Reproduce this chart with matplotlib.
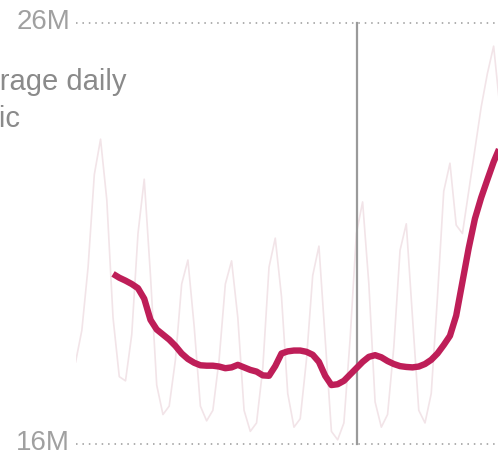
import matplotlib.pyplot as plt
from matplotlib.transforms import ScaledTranslation

# daily traffic in millions, one value per day
daily = [17.95, 18.7, 20.2, 22.4, 23.24, 21.8, 19.0, 17.6, 17.5, 18.6,
         21.0, 22.29, 20.0, 17.4, 16.7, 16.9, 18.0, 19.8, 20.37, 18.8,
         16.9, 16.55, 16.8, 18.0, 19.8, 20.35, 19.0, 16.8, 16.3, 16.5,
         17.8, 20.2, 20.89, 19.5, 17.2, 16.4, 16.6, 18.0, 20.0, 20.7,
         18.5, 16.3, 16.1, 16.5, 18.5, 21.0, 21.75, 19.8, 17.0, 16.4,
         16.7, 18.3, 20.6, 21.23, 19.0, 16.8, 16.5, 17.2, 19.5, 22.0,
         22.67, 21.2, 21.0, 22.0, 23.0, 24.0, 24.8, 25.45, 24.0]
days = list(range(len(daily)))

# seven-day average, starting on day 6
avg = [20.04, 19.95, 19.88, 19.80, 19.70, 19.45, 18.95, 18.72, 18.60, 18.48,
       18.33, 18.15, 18.02, 17.93, 17.87, 17.86, 17.86, 17.84, 17.80, 17.82,
       17.88, 17.82, 17.76, 17.72, 17.63, 17.62, 17.85, 18.15, 18.20, 18.22,
       18.22, 18.19, 18.12, 17.95, 17.62, 17.40, 17.42, 17.50, 17.65, 17.80,
       17.95, 18.07, 18.11, 18.06, 17.97, 17.90, 17.85, 17.83, 17.82, 17.84,
       17.90, 18.00, 18.15, 18.35, 18.57, 19.05, 19.85, 20.65, 21.35, 21.85,
       22.28, 22.70, 23.05]
avg_days = list(range(6, 6 + len(avg)))

event_day = 45.1
yticks = [16, 26]
ytick_labels = ["16M", "26M"]

W, H = 498, 456
fig = plt.figure(figsize=(W / 100, H / 100), dpi=100)
ax = fig.add_axes([75.6 / W, 11 / H, (W - 75.6) / W, 421 / H])

ax.plot(days, daily, color="#f2e4e8", lw=1.2, zorder=1)
ax.axvline(event_day, color="#9a9a9a", lw=1.6, zorder=2, clip_on=False)
ax.plot(avg_days, avg, color="#be1e58", lw=4.6, solid_capstyle="butt",
        solid_joinstyle="round", zorder=3)

for v in yticks:
    ax.axhline(v, color="#999999", lw=1.1, ls=(0, (1, 3.2)), clip_on=False, zorder=0)

ax.set_xlim(0, 67.7)
ax.set_ylim(16, 26)
ax.set_xticks([])
ax.set_yticks(yticks)
ax.set_yticklabels(ytick_labels, fontsize=20, color="#a0a0a0", family="Liberation Sans")
ax.tick_params(axis="y", length=0, pad=4)
shift = ScaledTranslation(0, 2 / 100, fig.dpi_scale_trans)
for lab in ax.get_yticklabels():
    lab.set_va("center")
    lab.set_transform(lab.get_transform() + shift)
for s in ax.spines.values():
    s.set_visible(False)
ax.patch.set_alpha(0)

fig.text(-50 / W, 1 - 90 / H, "Average daily", fontsize=21, color="#8a8a8a",
         family="Liberation Sans", va="baseline", ha="left")
fig.text(-50 / W, 1 - 127 / H, "traffic", fontsize=21, color="#8a8a8a",
         family="Liberation Sans", va="baseline", ha="left")

fig.savefig("out.png", dpi=100)
